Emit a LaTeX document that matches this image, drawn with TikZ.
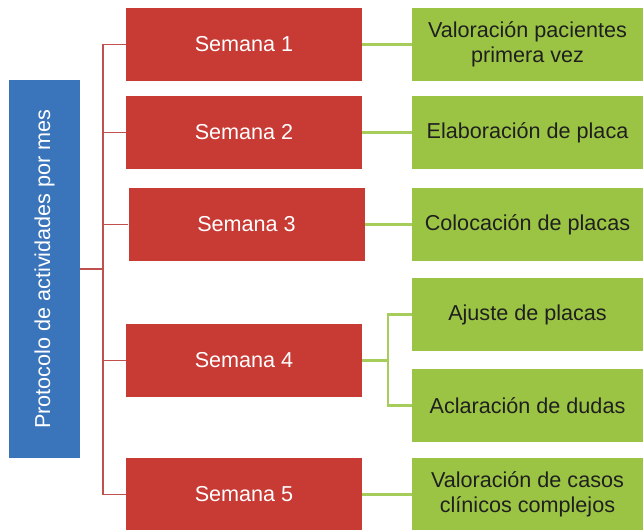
\documentclass[tikz,border=0pt]{standalone}
\usepackage{fontspec}
\setmainfont{Liberation Sans}
\definecolor{protblue}{RGB}{58,117,188}
\definecolor{semred}{RGB}{200,58,52}
\definecolor{actgreen}{RGB}{155,196,68}
\definecolor{redline}{RGB}{192,80,77}
\definecolor{greenline}{RGB}{166,204,90}
\begin{document}
\begin{tikzpicture}[x=1pt,y=-1pt,
    every node/.style={font=\fontsize{21.6}{25}\selectfont, align=center, inner sep=0pt},
    semana/.style={fill=semred, text=white, minimum width=236pt, minimum height=73pt},
    actividad/.style={fill=actgreen, text=black!88, minimum width=231pt, minimum height=73pt},
    rama/.style={draw=redline, line width=1.5pt},
    hoja/.style={draw=greenline, line width=2.5pt}]
    \useasboundingbox (0,0) rectangle (643,530);
    \node[fill=protblue, text=white, minimum width=71pt, minimum height=378pt] (prot) at (44.5,269) {};
    \node[rotate=90, text=white] at (prot.center) {Protocolo de actividades por mes};
    \node[semana] (s1) at (244,44.5) {Semana 1};
    \node[semana] (s2) at (244,132.5) {Semana 2};
    \node[semana] (s3) at (246.5,224.5) {Semana 3};
    \node[semana] (s4) at (244,360.5) {Semana 4};
    \node[semana] (s5) at (244,494.5) {Semana 5};
    \node[actividad] (a1) at (527.5,44.5) {Valoración pacientes\\primera vez};
    \node[actividad] (a2) at (527.5,132.5) {Elaboración de placa};
    \node[actividad] (a3) at (527.5,224.5) {Colocación de placas};
    \node[actividad] (a4) at (527.5,314.5) {Ajuste de placas};
    \node[actividad] (a5) at (527.5,405.5) {Aclaración de dudas};
    \node[actividad] (a6) at (527.5,494.5) {Valoración de casos\\clínicos complejos};
    \coordinate (tronco) at (103,269);
    \coordinate (horq) at (388,360.5);
    \draw[rama] (prot.east) -- (tronco);
    \draw[rama] (s1.west) -| (tronco);
    \draw[rama] (s2.west) -| (tronco);
    \draw[rama] (s3.west) -| (tronco);
    \draw[rama] (s4.west) -| (tronco);
    \draw[rama] (s5.west) -| (tronco);
    \draw[hoja] (s1.east) -- (a1.west);
    \draw[hoja] (s2.east) -- (a2.west);
    \draw[hoja] (s3.east) -- (a3.west);
    \draw[hoja] (s4.east) -- (horq);
    \draw[hoja] (a4.west) -| (horq);
    \draw[hoja] (a5.west) -| (horq);
    \draw[hoja] (s5.east) -- (a6.west);
\end{tikzpicture}
\end{document}
